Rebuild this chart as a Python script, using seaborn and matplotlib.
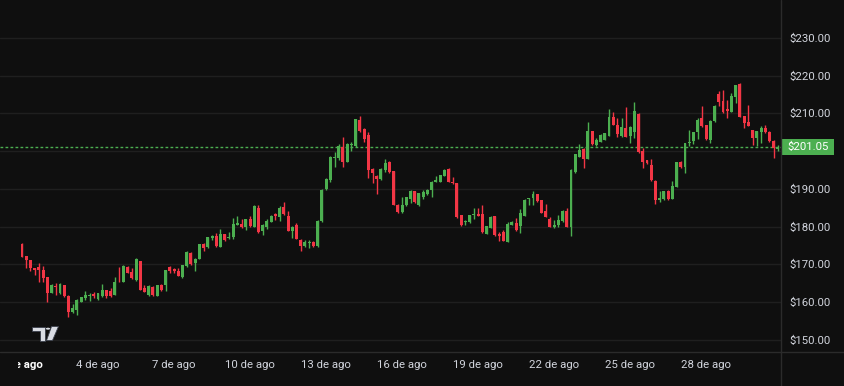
import matplotlib
matplotlib.use("Agg")
import matplotlib.pyplot as plt
from matplotlib.patches import Polygon, Rectangle, Circle
from matplotlib.lines import Line2D
from matplotlib.transforms import Bbox
import seaborn as sns
import pandas as pd
import numpy as np

# 4h candles, 1 Aug 00:00 -> 30 Aug 20:00
opens = [175.4, 172.2, 171.1, 168.9, 169.3, 168.6, 166.6, 162.5, 164.3, 162.4,
         164.4, 161.7, 157.3, 157.8, 160.1, 161.1, 161.5, 162.0, 160.9, 161.5,
         163.1, 162.8, 161.9, 165.6, 165.4, 169.4, 168.0, 165.8, 170.9, 163.6,
         161.9, 164.1, 161.6, 164.5, 164.5, 169.2, 168.8, 168.2, 166.7, 169.6,
         173.1, 170.4, 171.5, 175.3, 174.6, 177.0, 177.6, 174.7, 177.9, 176.9,
         177.1, 180.4, 180.8, 179.9, 182.0, 180.0, 184.9, 178.7, 180.0, 181.3,
         183.3, 182.4, 185.2, 182.7, 178.9, 180.4, 176.5, 174.9, 175.6, 175.9,
         174.8, 181.4, 189.9, 192.2, 198.2, 198.1, 201.1, 197.2, 201.5, 201.3,
         208.2, 205.8, 204.2, 195.2, 193.4, 192.6, 195.0, 197.2, 194.7, 185.6,
         183.9, 185.7, 187.2, 189.3, 185.7, 187.7, 188.6, 189.6, 191.9, 191.9,
         193.5, 195.2, 191.9, 191.5, 183.0, 181.2, 181.2, 183.0, 183.3, 183.2,
         178.1, 179.7, 182.7, 177.9, 178.5, 176.0, 180.4, 180.9, 180.2, 182.9,
         187.3, 187.5, 188.6, 187.0, 184.0, 182.0, 180.0, 180.3, 181.5, 184.1,
         180.0, 194.4, 198.5, 200.6, 197.9, 205.3, 201.6, 202.5, 202.9, 204.1,
         209.1, 206.9, 204.1, 206.0, 204.1, 205.0, 209.8, 199.9, 197.5, 196.3,
         192.1, 187.1, 187.2, 189.4, 187.4, 190.5, 197.0, 195.8, 202.0, 202.7,
         205.1, 208.7, 206.9, 202.9, 207.9, 215.1, 213.3, 211.1, 210.4, 214.4,
         217.7, 209.3, 207.6, 205.6, 203.4, 205.1, 206.2, 205.1, 202.7, 200.5]
highs = [175.6, 172.3, 171.2, 169.1, 170.3, 169.6, 166.6, 164.7, 165.0, 165.0,
         164.5, 161.8, 159.6, 160.8, 161.4, 162.8, 162.3, 162.6, 162.5, 164.8,
         163.2, 163.8, 166.6, 169.2, 169.7, 169.6, 169.0, 171.6, 171.0, 164.5,
         164.5, 164.3, 164.6, 164.8, 168.6, 169.5, 169.0, 168.9, 169.9, 173.4,
         173.3, 171.6, 175.4, 175.7, 177.3, 177.8, 178.2, 179.3, 178.1, 178.6,
         182.3, 182.9, 181.9, 182.0, 182.7, 185.6, 185.6, 180.8, 181.9, 183.0,
         183.5, 185.4, 186.5, 184.0, 180.1, 181.0, 176.6, 176.4, 176.4, 176.2,
         181.6, 189.9, 192.8, 198.6, 199.8, 201.9, 203.8, 202.0, 202.5, 208.5,
         209.3, 206.0, 205.0, 195.4, 193.6, 195.4, 197.8, 197.4, 194.8, 186.1,
         187.9, 187.8, 189.6, 189.5, 188.9, 189.6, 190.0, 192.0, 193.5, 193.7,
         195.2, 195.4, 193.2, 191.6, 183.1, 181.7, 183.1, 184.8, 185.0, 185.7,
         180.2, 182.7, 182.8, 178.6, 179.0, 181.3, 181.5, 182.2, 184.7, 187.2,
         187.6, 189.3, 188.7, 187.1, 186.1, 182.6, 181.7, 183.1, 184.3, 184.8,
         195.3, 199.2, 201.8, 200.7, 207.8, 205.4, 203.5, 204.5, 204.8, 211.1,
         210.3, 208.7, 208.7, 211.7, 206.6, 213.1, 210.0, 200.7, 197.6, 197.9,
         192.2, 189.3, 189.5, 189.6, 192.0, 197.1, 197.3, 202.2, 205.6, 205.1,
         208.8, 211.8, 207.0, 208.1, 212.1, 215.8, 216.2, 213.5, 215.3, 217.6,
         217.9, 209.4, 212.2, 205.7, 205.4, 206.5, 206.9, 205.2, 202.8, 201.6]
lows = [171.9, 168.9, 168.3, 167.2, 165.3, 165.4, 160.1, 162.4, 161.9, 162.2,
        161.3, 156.0, 157.2, 156.6, 160.0, 160.5, 160.4, 161.0, 160.6, 161.4,
        161.2, 161.3, 161.8, 165.3, 165.2, 167.6, 166.2, 165.7, 163.1, 162.6,
        161.6, 161.6, 161.5, 163.0, 162.9, 167.8, 167.8, 166.8, 166.5, 169.2,
        169.7, 168.2, 171.4, 173.6, 174.4, 176.4, 174.6, 174.6, 176.3, 176.8,
        176.8, 180.3, 179.7, 179.0, 180.0, 179.8, 178.3, 177.8, 179.3, 181.2,
        181.6, 181.5, 183.1, 178.7, 177.0, 176.6, 173.6, 174.6, 174.2, 174.6,
        174.6, 181.2, 189.8, 191.8, 195.7, 197.7, 195.8, 197.0, 200.0, 201.0,
        205.1, 202.5, 192.9, 191.6, 188.6, 192.4, 194.5, 194.3, 185.6, 183.6,
        183.7, 185.5, 186.3, 186.3, 185.5, 187.4, 188.4, 187.7, 191.8, 191.8,
        193.3, 191.7, 191.2, 182.3, 180.2, 180.4, 181.0, 182.1, 182.7, 178.3,
        177.9, 179.5, 177.6, 176.1, 176.2, 176.0, 180.3, 178.7, 178.2, 182.7,
        185.8, 185.8, 186.4, 183.5, 182.4, 179.8, 179.7, 180.0, 181.3, 179.9,
        177.6, 194.2, 198.4, 195.6, 197.8, 201.7, 201.2, 202.3, 202.8, 203.9,
        206.8, 203.8, 203.6, 203.7, 202.1, 203.4, 199.5, 195.4, 196.5, 192.1,
        186.0, 186.6, 186.9, 187.0, 187.3, 190.4, 195.4, 194.1, 201.2, 201.8,
        203.2, 206.4, 202.9, 202.0, 207.8, 211.8, 210.2, 208.7, 210.3, 212.7,
        208.9, 206.0, 206.6, 201.6, 201.4, 202.0, 204.7, 202.5, 198.1, 200.0]
closes = [172.0, 171.2, 168.9, 168.6, 168.6, 166.3, 162.5, 164.5, 163.9, 164.7,
          161.5, 157.3, 158.5, 160.5, 161.3, 161.9, 161.9, 161.6, 162.4, 163.2,
          161.5, 161.6, 165.4, 165.5, 169.6, 167.8, 166.3, 171.4, 163.2, 162.7,
          164.3, 161.8, 164.4, 163.2, 168.5, 168.1, 168.1, 167.0, 169.8, 173.3,
          170.0, 171.5, 175.3, 174.3, 177.1, 177.6, 174.8, 177.9, 176.5, 177.2,
          180.6, 181.0, 179.9, 181.9, 180.2, 185.4, 178.5, 180.3, 181.5, 182.9,
          182.8, 185.0, 183.3, 178.8, 180.0, 176.7, 174.9, 175.9, 175.9, 174.8,
          181.4, 189.8, 192.7, 198.5, 198.5, 201.3, 197.2, 201.8, 201.9, 208.4,
          205.3, 203.2, 195.0, 194.2, 192.7, 195.2, 196.9, 194.5, 185.8, 183.9,
          185.7, 187.7, 189.5, 186.5, 188.8, 189.2, 189.8, 191.9, 192.2, 193.6,
          195.0, 191.9, 191.6, 182.6, 180.4, 181.3, 183.0, 183.3, 182.9, 178.5,
          180.1, 182.6, 177.8, 177.6, 176.3, 180.6, 181.3, 179.1, 183.5, 187.1,
          187.5, 188.6, 186.8, 183.7, 182.5, 180.0, 180.4, 181.8, 184.1, 180.0,
          195.0, 199.1, 200.3, 197.8, 205.3, 201.9, 202.9, 204.3, 204.7, 208.9,
          206.9, 204.4, 206.3, 203.8, 206.3, 210.6, 199.7, 197.0, 196.8, 192.3,
          187.1, 187.5, 189.4, 187.3, 190.8, 197.0, 195.8, 202.1, 202.3, 205.0,
          208.2, 206.5, 203.2, 208.0, 212.0, 213.1, 210.4, 210.7, 214.7, 217.5,
          209.1, 207.5, 206.7, 203.4, 205.3, 206.0, 205.0, 202.7, 200.9, 201.05]

last_price = 201.05
price_ticks = [150, 160, 170, 180, 190, 200, 210, 220, 230]
date_ticks = [18, 36, 54, 72, 90, 108, 126, 144, 162]
date_labels = ["4 de ago", "7 de ago", "10 de ago", "13 de ago", "16 de ago",
               "19 de ago", "22 de ago", "25 de ago", "28 de ago"]

df = pd.DataFrame({"open": opens, "high": highs, "low": lows, "close": closes})
df["idx"] = np.arange(len(df))

BG = "#0f0f0f"
GRID = "#1f1f1f"
SEP = "#2b2b2b"
TXT = "#d1d4dc"
UP = "#4caf50"
DOWN = "#f23645"

sns.set_style("dark", rc={"axes.facecolor": BG, "figure.facecolor": BG})
plt.rcParams["font.family"] = ["Roboto", "DejaVu Sans"]

W, H = 844, 386
fig = plt.figure(figsize=(W / 100, H / 100), dpi=100)
ax = fig.add_axes([0, 34 / H, 781 / W, 352 / H])
ax.set_facecolor(BG)

colors = np.where(df["close"] >= df["open"], UP, DOWN)
ax.vlines(df["idx"], df["low"], df["high"], colors=colors, linewidth=1, zorder=3)
body_lo = df[["open", "close"]].min(axis=1)
body_h = (df["close"] - df["open"]).abs().clip(lower=0.15)
ax.bar(df["idx"], body_h, bottom=body_lo, width=0.7, color=colors, linewidth=0, zorder=4)

ax.axhline(last_price, color=UP, linewidth=1, linestyle=(0, (2, 1.6)), zorder=2)

ax.set_xlim(-5.21, 179.73)
ax.set_ylim(146.77, 240.0)
ax.set_yticks(price_ticks)
# the $200.00 label sits under the last-price tag, so it is left blank
ax.set_yticklabels(["" if p == 200 else f"${p:.2f}" for p in price_ticks])
ax.yaxis.tick_right()
ax.set_xticks(date_ticks)
ax.set_xticklabels(date_labels)
ax.tick_params(axis="both", length=0, colors=TXT, labelsize=8.2)
ax.tick_params(axis="y", pad=6)
ax.tick_params(axis="x", pad=6)
ax.grid(axis="y", color=GRID, linewidth=1)
ax.grid(axis="x", visible=False)
for s in ax.spines.values():
    s.set_visible(False)


def fx(px):
    return px / W


def fy(py):
    return 1 - py / H


# separators
fig.add_artist(Line2D([fx(781), fx(781)], [0, 1], color=SEP, linewidth=1))
fig.add_artist(Line2D([0, 1], [fy(352), fy(352)], color=SEP, linewidth=1))

# first (month) label, clipped at the left
t = fig.text(fx(43), fy(365), "1 de ago", ha="right", va="center",
             color="#ffffff", fontsize=8.2, fontweight="bold")
t.set_clip_box(Bbox.from_extents(18, 0, 781, 34))
t.set_clip_on(True)

# last price tag
fig.add_artist(Rectangle((fx(781), fy(154.5)), fx(53), 15.5 / H,
                         facecolor=UP, edgecolor="none"))
fig.text(fx(808), fy(146.8), f"${last_price:.2f}", ha="center", va="center",
         color="white", fontsize=8.2)

# tradingview logo
logo_c = "#d9dce3"
fig.add_artist(Polygon([(fx(32), fy(326.5)), (fx(44.5), fy(326.5)), (fx(44.5), fy(340.5)),
                        (fx(39.5), fy(340.5)), (fx(39.5), fy(331)), (fx(32), fy(331))],
                       closed=True, facecolor=logo_c, edgecolor="#3a3f4b", linewidth=0.6))
fig.add_artist(Circle((fx(48), fy(328.7)), 2.2 / W, facecolor=logo_c, edgecolor="none"))
fig.add_artist(Polygon([(fx(51.5), fy(326.5)), (fx(58.5), fy(326.5)), (fx(52.5), fy(340.5)),
                        (fx(46.5), fy(340.5))],
                       closed=True, facecolor=logo_c, edgecolor="#3a3f4b", linewidth=0.6))

fig.savefig("out.png", dpi=100, facecolor=BG)
